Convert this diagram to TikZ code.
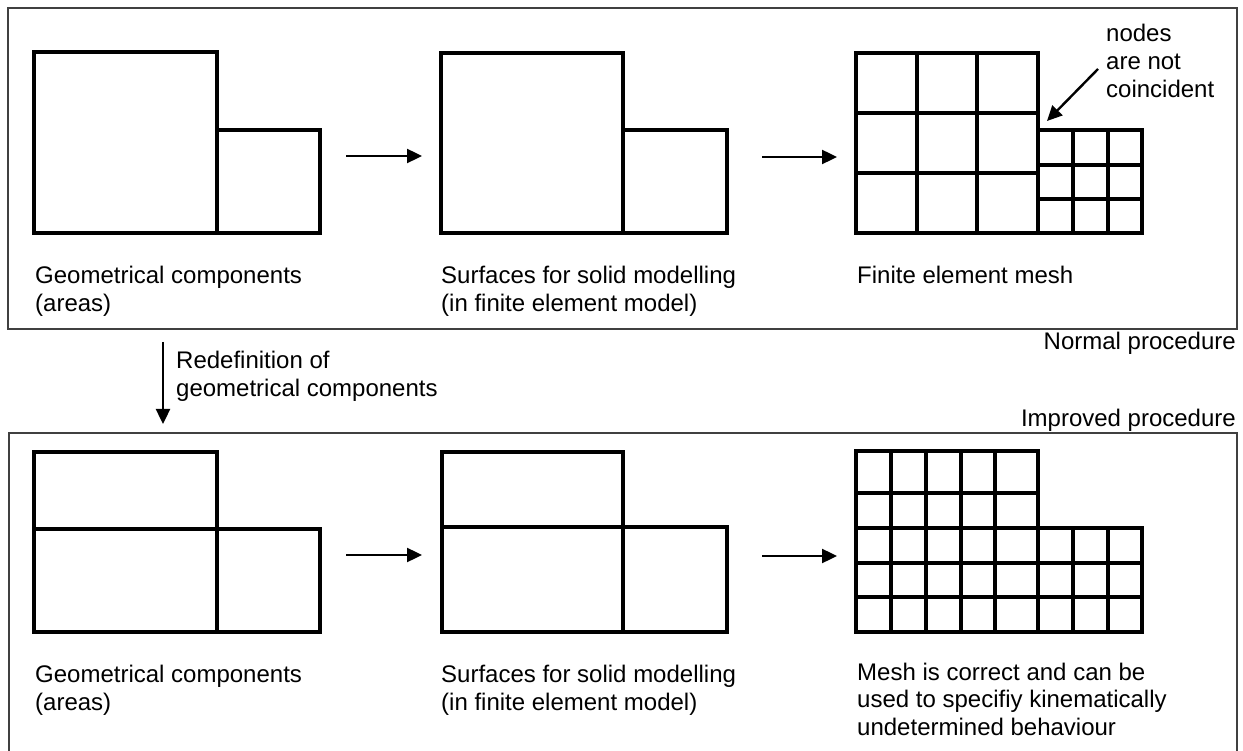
\documentclass[tikz,border=0pt]{standalone}
\usepackage{fontspec}
\setmainfont{Liberation Sans}
\usetikzlibrary{arrows.meta}
\begin{document}
\begin{tikzpicture}[x=1pt,y=-1pt,
  geom/.style={line width=3.2pt,line join=miter,black},
  frame/.style={line width=1.6pt,black!75},
  arr/.style={line width=2.4pt,-{Triangle[length=15pt,width=14pt]}},
  lbl/.style={anchor=base west,inner sep=0pt,align=left,font=\fontsize{24}{28}\selectfont},
  rlbl/.style={anchor=base east,inner sep=0pt,font=\fontsize{24}{28}\selectfont}]
\useasboundingbox (0,0) rectangle (1243,751);
% frames
\draw[frame] (8,8) rectangle (1237,329);
\draw[frame] (9,751) -- (9,433) -- (1237,433) -- (1237,751);
% ---------- top row ----------
\draw[geom] (34,52) rectangle (217,233);
\draw[geom] (217,130) rectangle (320,233);
\draw[geom] (441,53) rectangle (623,233);
\draw[geom] (623,130) rectangle (727,233);
% coarse mesh
\draw[geom] (856,53) rectangle (1038,233);
\foreach \x in {917,977} \draw[geom] (\x,53) -- (\x,233);
\foreach \y in {113,173} \draw[geom] (856,\y) -- (1038,\y);
% fine mesh
\draw[geom] (1038,130) rectangle (1142,233);
\foreach \x in {1073,1108} \draw[geom] (\x,130) -- (\x,233);
\foreach \y in {165,199} \draw[geom] (1038,\y) -- (1142,\y);
% arrows top
\coordinate (t1s) at (346,156); \coordinate (t1e) at (422,156);
\coordinate (t2s) at (762,157); \coordinate (t2e) at (837,157);
\draw[arr] (t1s) -- (t1e);
\draw[arr] (t2s) -- (t2e);
% annotation
\node[lbl] (nodes) at (1106,98) {nodes\\are not\\coincident};
\coordinate (ns) at (1098,69); \coordinate (ne) at (1047,121);
\draw[arr] (ns) -- (ne);
% top labels
\node[lbl] (tl1) at (35,312) {Geometrical components\\(areas)};
\node[lbl] (tl2) at (441,312) {Surfaces for solid modelling\\(in finite element model)};
\node[lbl] (tl3) at (857,284) {Finite element mesh};
\node[rlbl] (np) at (1236,350) {Normal procedure};
% redefinition
\coordinate (rs) at (163,342); \coordinate (re) at (163,424);
\draw[arr] (rs) -- (re);
\node[lbl] (redef) at (176,396) {Redefinition of\\geometrical components};
\node[rlbl] (ip) at (1236,427) {Improved procedure};
% ---------- bottom row ----------
\draw[geom] (34,452) rectangle (217,632);
\draw[geom] (34,529) -- (217,529);
\draw[geom] (217,529) rectangle (320,632);
\draw[geom] (442,452) rectangle (623,632);
\draw[geom] (442,527) -- (623,527);
\draw[geom] (623,527) rectangle (727,632);
% mesh
\draw[geom] (856,451) -- (1038,451) -- (1038,528) -- (1142,528) -- (1142,632) -- (856,632) -- cycle;
\foreach \x in {891,926,961,995,1038} \draw[geom] (\x,451) -- (\x,632);
\foreach \x in {1073,1108} \draw[geom] (\x,528) -- (\x,632);
\draw[geom] (856,493) -- (1038,493);
\foreach \y in {528,563,597} \draw[geom] (856,\y) -- (1142,\y);
% arrows bottom
\coordinate (b1s) at (346,555); \coordinate (b1e) at (422,555);
\coordinate (b2s) at (762,556); \coordinate (b2e) at (837,556);
\draw[arr] (b1s) -- (b1e);
\draw[arr] (b2s) -- (b2e);
% bottom labels
\node[lbl,font=\fontsize{24}{27.5}\selectfont] (bl1) at (35,710) {Geometrical components\\(areas)};
\node[lbl,font=\fontsize{24}{27.5}\selectfont] (bl2) at (441,710) {Surfaces for solid modelling\\(in finite element model)};
\node[lbl,font=\fontsize{24}{27.5}\selectfont] (bl3) at (857,735) {Mesh is correct and can be\\used to specifiy kinematically\\undetermined behaviour};
\end{tikzpicture}
\end{document}
